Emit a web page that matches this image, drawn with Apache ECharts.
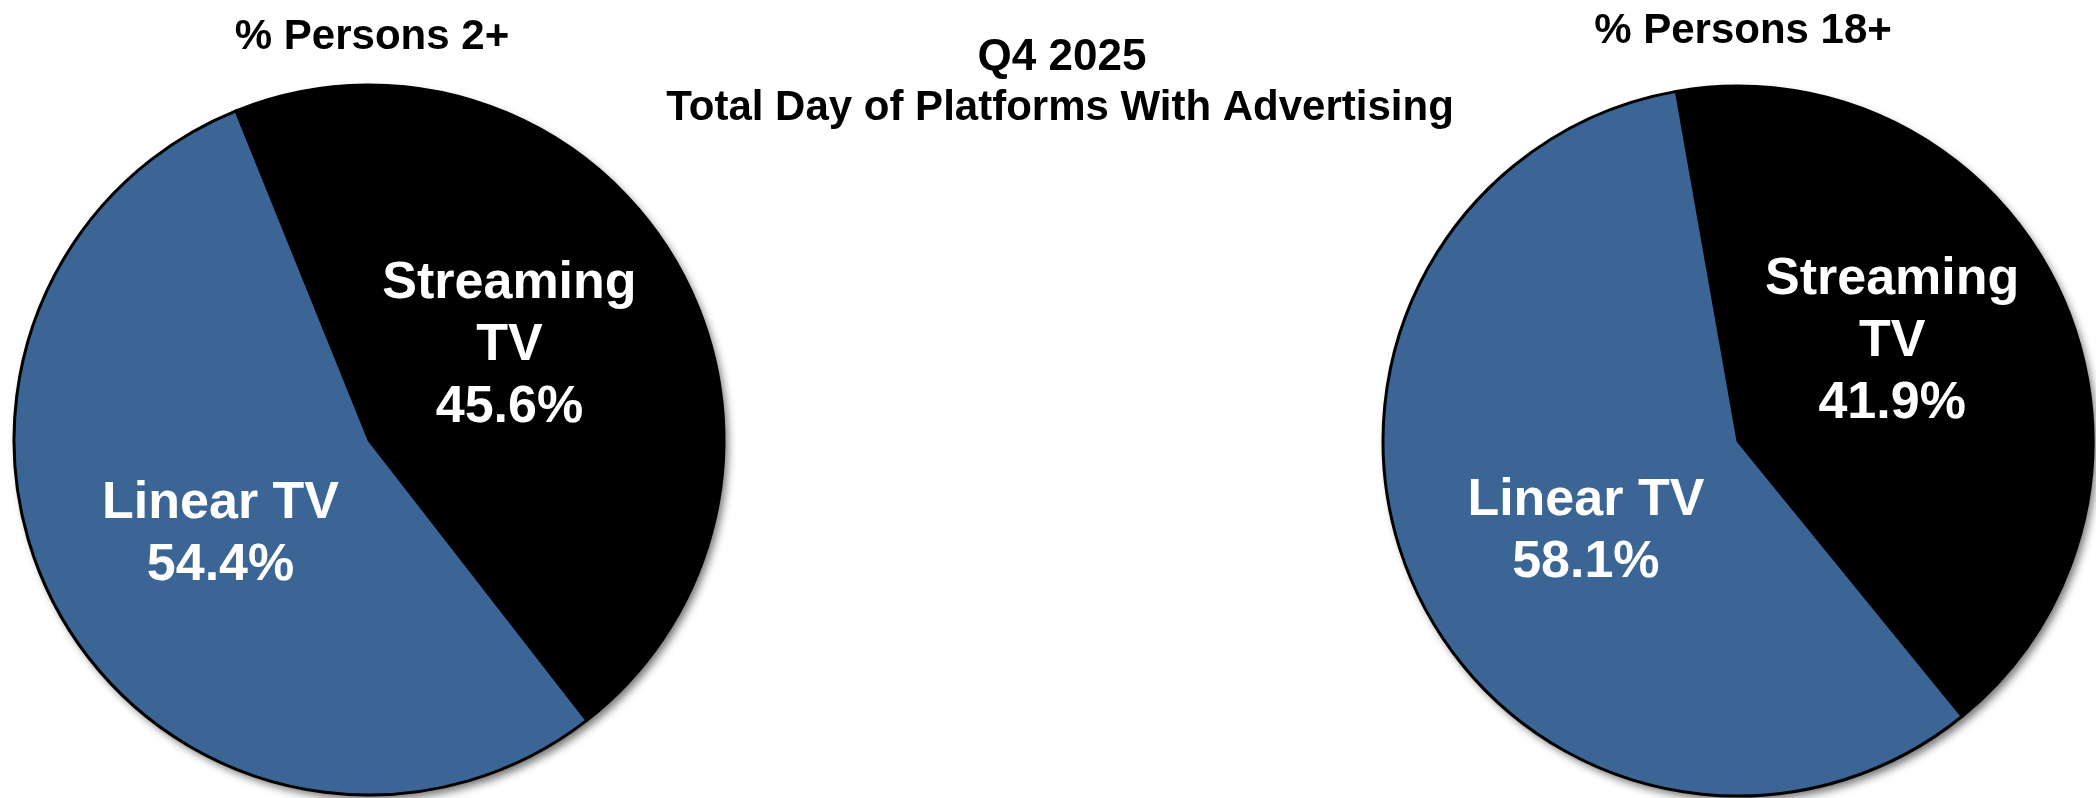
<!DOCTYPE html>
<html>
<head>
<meta charset="utf-8">
<script src="https://cdn.jsdelivr.net/npm/echarts@6/dist/echarts.min.js"></script>
<style>
  html, body { margin: 0; padding: 0; background: #ffffff; }
  #chart { width: 2096px; height: 798px; }
</style>
</head>
<body>
<div id="chart"></div>
<script>
// ---- Data ----
const categories = ['Streaming TV', 'Linear TV'];
const categoryLabels = ['Streaming\nTV', 'Linear TV'];
const persons2Values = [45.6, 54.4];
const persons18Values = [41.9, 58.1];
const pieTitles = ['% Persons 2+', '% Persons 18+'];
const mainTitle = 'Q4 2025';
const subTitle = 'Total Day of Platforms With Advertising';

// ---- Styles ----
const FONT = "'Liberation Sans', Arial, sans-serif";
const sliceColors = ['#000000', '#3b6594'];
const R = 355;
const pies = [
  { values: persons2Values, center: [369, 440], startAngle: 112, offsets: [[-16, -4], [8, 5]] },
  { values: persons18Values, center: [1738, 441], startAngle: 100, offsets: [[-10, -24], [12, 16]] }
];

const series = [];
pies.forEach((p, pi) => {
  const total = p.values.reduce((a, b) => a + b, 0);
  // shadow underlay
  series.push({
    type: 'pie',
    silent: true,
    z: 1,
    center: p.center,
    radius: [0, R],
    startAngle: p.startAngle,
    label: { show: false },
    labelLine: { show: false },
    emphasis: { disabled: true },
    itemStyle: {
      color: '#000',
      shadowColor: 'rgba(0,0,0,0.55)',
      shadowBlur: 8,
      shadowOffsetX: 4,
      shadowOffsetY: 5
    },
    data: [{ name: 'total', value: total }]
  });
  series.push({
    type: 'pie',
    z: 2,
    center: p.center,
    radius: [0, R],
    startAngle: p.startAngle,
    clockwise: true,
    animation: false,
    emphasis: { disabled: true },
    itemStyle: { borderColor: '#000', borderWidth: 3 },
    labelLine: { show: false },
    data: categories.map((c, i) => ({
      name: c,
      value: p.values[i],
      itemStyle: { color: sliceColors[i] },
      label: {
        show: true,
        position: 'inside',
        offset: p.offsets[i],
        formatter: () => categoryLabels[i] + '\n' + p.values[i].toFixed(1) + '%',
        color: '#ffffff',
        fontFamily: FONT,
        fontWeight: 'bold',
        fontSize: 52,
        lineHeight: 62,
        align: 'center'
      }
    }))
  });
});

const titleStyle = { fontFamily: FONT, fontWeight: 'bold', color: '#000', fontSize: 42 };
const option = {
  backgroundColor: '#ffffff',
  animation: false,
  title: [
    { text: pieTitles[0], left: 372, top: 16, padding: 0, textAlign: 'center', textStyle: titleStyle },
    { text: pieTitles[1], left: 1743, top: 10, padding: 0, textAlign: 'center', textStyle: titleStyle },
    { text: mainTitle, left: 1062, top: 36, padding: 0, textAlign: 'center', textStyle: Object.assign({}, titleStyle, { fontSize: 44 }) },
    { text: subTitle, left: 1060, top: 87, padding: 0, textAlign: 'center', textStyle: titleStyle }
  ],
  series: series
};

const chart = echarts.init(document.getElementById('chart'), null, { renderer: 'canvas' });
chart.setOption(option);
</script>
</body>
</html>
